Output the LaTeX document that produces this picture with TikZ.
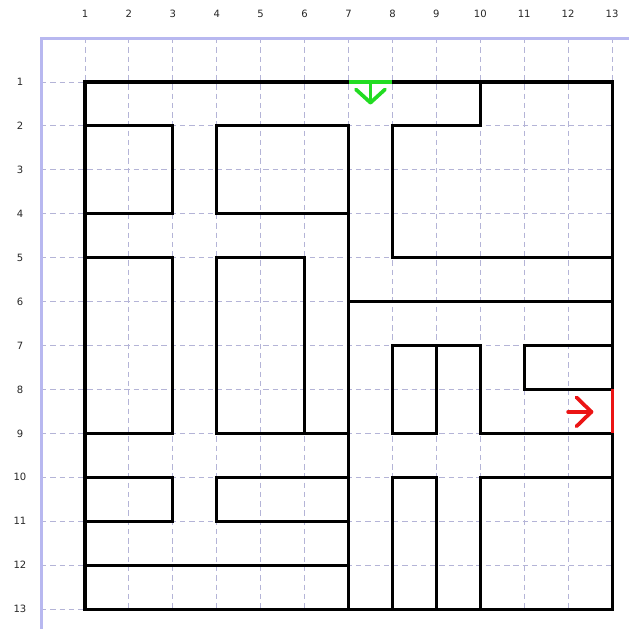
\documentclass[tikz,border=0pt]{standalone}
\usepackage{fontspec}
\setmainfont{DejaVu Sans}
\definecolor{framec}{RGB}{184,184,240}
\definecolor{gridc}{RGB}{180,180,215}
\definecolor{entc}{RGB}{34,220,34}
\definecolor{exitc}{RGB}{235,20,20}
\begin{document}
\begin{tikzpicture}[x=1cm,y=-1cm,
  gridline/.style={gridc,line width=0.6pt,dash pattern=on 3.5pt off 2.5pt},
  framel/.style={framec,line width=2pt},
  wall/.style={black,line width=2pt,line cap=rect,line join=miter},
  entwall/.style={entc,line width=2pt},
  exitwall/.style={exitc,line width=2pt},
  entarrow/.style={entc,line width=2.4pt,line cap=round,line join=round},
  exitarrow/.style={exitc,line width=2.4pt,line cap=round,line join=round},
  axlabel/.style={font=\fontsize{6.5}{7}\selectfont,text=black!85,inner sep=0pt}]
\useasboundingbox (-0.935,-0.867) rectangle (13.386,13.454);
% grid
\foreach \i in {1,...,13} {
  \draw[gridline] (\i,0) -- (\i,13);
  \draw[gridline] (0,\i) -- (13,\i);
  \node[axlabel] (top\i) at (\i,-0.55) {\i};
  \node[axlabel] (left\i) at (-0.48,\i) {\i};
}
% frame
\draw[framel] (0,13.454) -- (0,0) -- (13.386,0);
% walls
\draw[wall] (7,1) -- (1,1) -- (1,13) -- (13,13) -- (13,9);
\draw[wall] (8,1) -- (13,1) -- (13,8);
\draw[wall] (10,1) -- (10,2) -- (8,2) -- (8,5) -- (13,5);
\draw[wall] (1,2) -- (3,2) -- (3,4) -- (1,4);
\draw[wall] (4,2) rectangle (7,4);
\draw[wall] (7,2) -- (7,13);
\draw[wall] (7,6) -- (13,6);
\draw[wall] (1,5) -- (3,5) -- (3,9) -- (1,9);
\draw[wall] (6,5) -- (4,5) -- (4,9) -- (7,9);
\draw[wall] (6,5) -- (6,9);
\draw[wall] (8,9) -- (8,7) -- (10,7) -- (10,9) -- (13,9);
\draw[wall] (9,7) -- (9,9) -- (8,9);
\draw[wall] (13,7) -- (11,7) -- (11,8) -- (13,8);
\draw[wall] (1,10) -- (3,10) -- (3,11) -- (1,11);
\draw[wall] (4,10) rectangle (7,11);
\draw[wall] (1,12) -- (7,12);
\draw[wall] (8,13) -- (8,10) -- (9,10) -- (9,13);
\draw[wall] (10,13) -- (10,10) -- (13,10);
% entrance
\draw[entwall] (7,1) -- (8,1);
\draw[entarrow] (7.5,1) -- (7.5,1.47);
\draw[entarrow] (7.17,1.17) -- (7.5,1.47) -- (7.83,1.17);
% exit
\draw[exitwall] (13,8) -- (13,9);
\draw[exitarrow] (12.0,8.51) -- (12.53,8.51);
\draw[exitarrow] (12.19,8.18) -- (12.53,8.51) -- (12.19,8.84);
\end{tikzpicture}
\end{document}
